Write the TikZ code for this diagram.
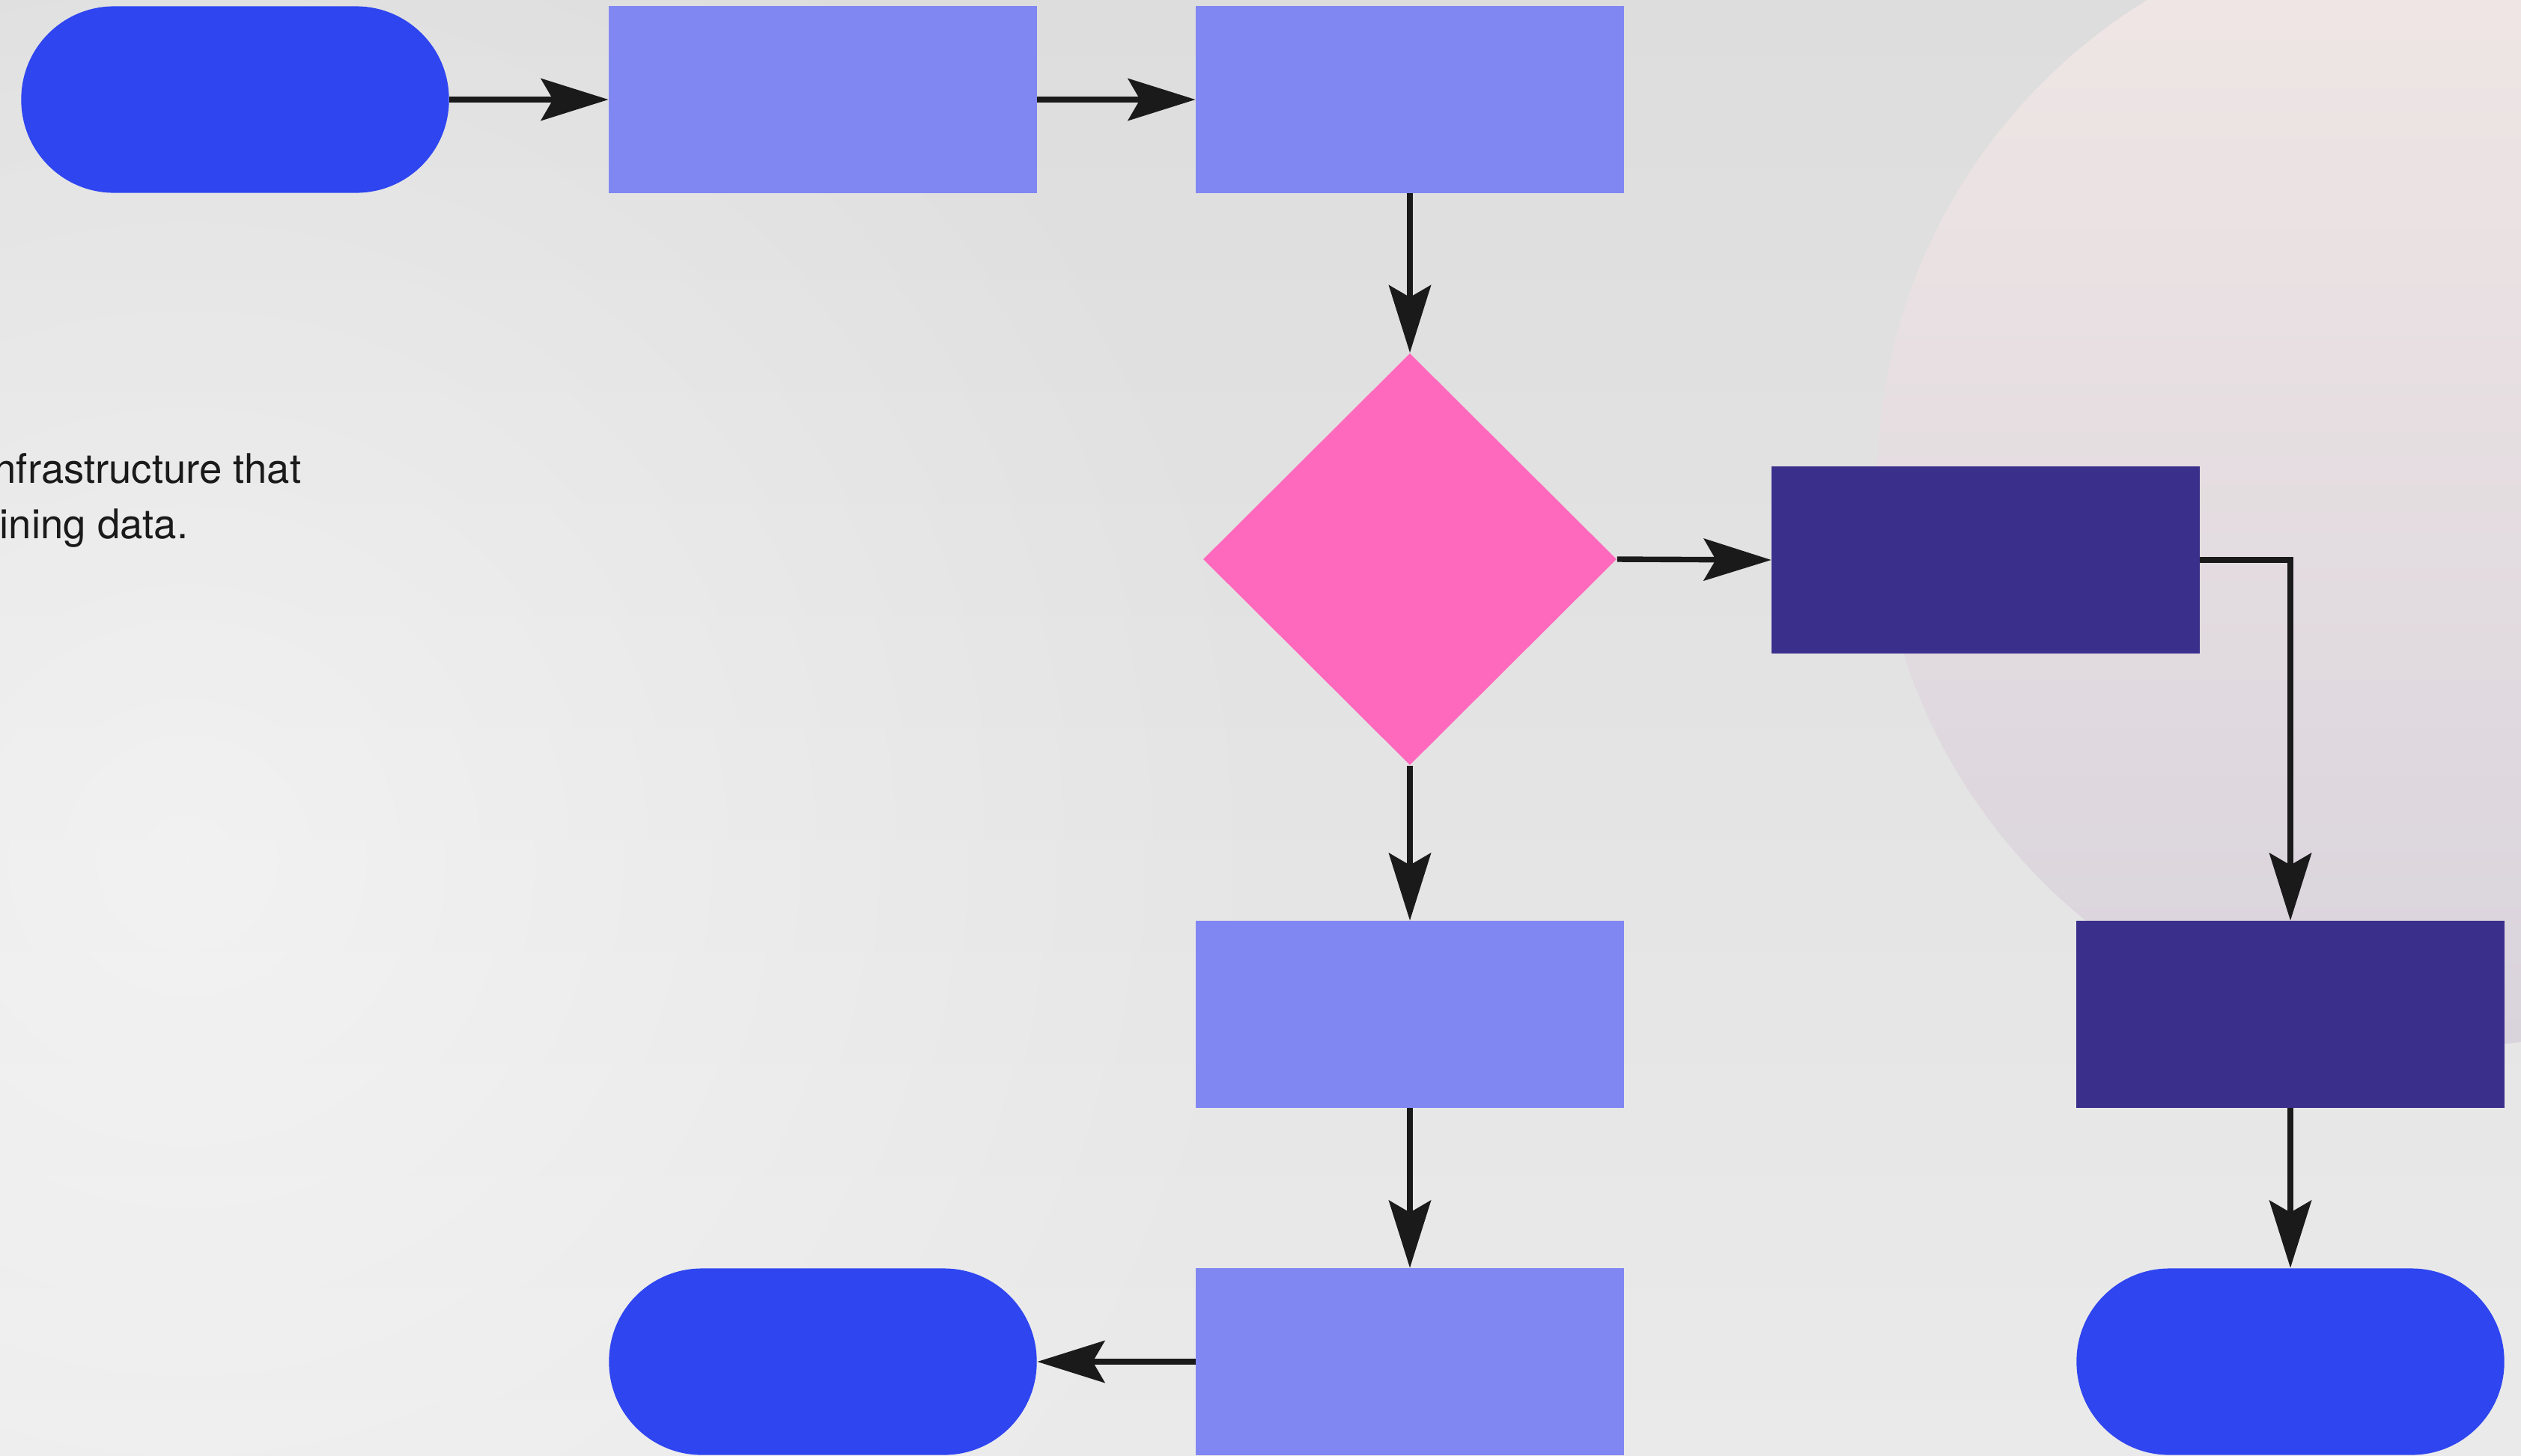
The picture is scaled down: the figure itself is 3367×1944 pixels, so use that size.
\documentclass[tikz,border=0pt]{standalone}
\usepackage{fontspec}
\setmainfont{TeX Gyre Heros}
\usetikzlibrary{arrows.meta,shapes.geometric,fadings}

\definecolor{bgtop}{HTML}{DDDDDD}
\definecolor{bgbot}{HTML}{EAEAEA}
\definecolor{orbpink}{HTML}{F0E7E5}
\definecolor{orblilac}{HTML}{D9D3DC}
\definecolor{pillblue}{HTML}{2E45F0}
\definecolor{lightbox}{HTML}{8187F2}
\definecolor{darkbox}{HTML}{3B2F8C}
\definecolor{decisionpink}{HTML}{FF69BD}
\definecolor{ink}{HTML}{1A1A1A}

% soft radial glow for the backdrop
\tikzfading[name=softglow, inner color=transparent!0, outer color=transparent!100]

\tikzset{
  shapebox/.style={rectangle, minimum width=5.71cm, minimum height=2.49cm,
    inner sep=0pt, draw=none},
  pill/.style={shapebox, rounded corners=1.24cm, fill=pillblue},
  lightstep/.style={shapebox, fill=lightbox},
  darkstep/.style={shapebox, fill=darkbox},
  decision/.style={diamond, aspect=1, minimum width=5.52cm,
    minimum height=5.5cm, inner sep=0pt, fill=decisionpink},
  flow/.style={draw=ink, line width=2.1pt,
    -{Stealth[length=0.9cm, width=0.56cm, inset=0.16cm]}},
  bodytext/.style={anchor=base east, inner sep=0pt, text=ink,
    font=\fontsize{15.5}{18}\selectfont}
}

\begin{document}
\begin{tikzpicture}[x=0.01cm, y=-0.01cm]
  \useasboundingbox (0,0) rectangle (3367,1944);
  \clip (0,0) rectangle (3367,1944);

  % backdrop
  \shade[top color=bgtop, bottom color=bgbot] (0,0) rectangle (3367,1944);
  \fill[white, opacity=0.5, path fading=softglow]
    (250,1150) circle (1500);
  \shade[shading angle=35, top color=orbpink, bottom color=orblilac]
    (3262,644) circle (755);

  % paragraph fragment on the left
  \node[bodytext] (t1) at (403,645) {nfrastructure that};
  \node[bodytext] (t2) at (252,719) {ining data.};

  % flowchart nodes
  \node[pill]      (start) at (314,133)  {};
  \node[lightstep] (s1)    at (1099,133) {};
  \node[lightstep] (s2)    at (1883,133) {};
  \node[decision]  (dec)   at (1883,747) {};
  \node[darkstep]  (d1)    at (2652,748) {};
  \node[darkstep]  (d2)    at (3059,1355) {};
  \node[lightstep] (s3)    at (1883,1355) {};
  \node[lightstep] (s4)    at (1883,1819) {};
  \node[pill]      (endL)  at (1099,1819) {};
  \node[pill]      (endR)  at (3059,1819) {};

  % connectors
  \draw[flow] (start.east) -- (s1.west);
  \draw[flow] (s1.east) -- (s2.west);
  \draw[flow] (s2.south) -- (dec.north);
  \draw[flow] (dec.east) -- (d1.west);
  \draw[flow] (d1.east) -| (d2.north);
  \draw[flow] (dec.south) -- (s3.north);
  \draw[flow] (s3.south) -- (s4.north);
  \draw[flow] (s4.west) -- (endL.east);
  \draw[flow] (d2.south) -- (endR.north);
\end{tikzpicture}
\end{document}
